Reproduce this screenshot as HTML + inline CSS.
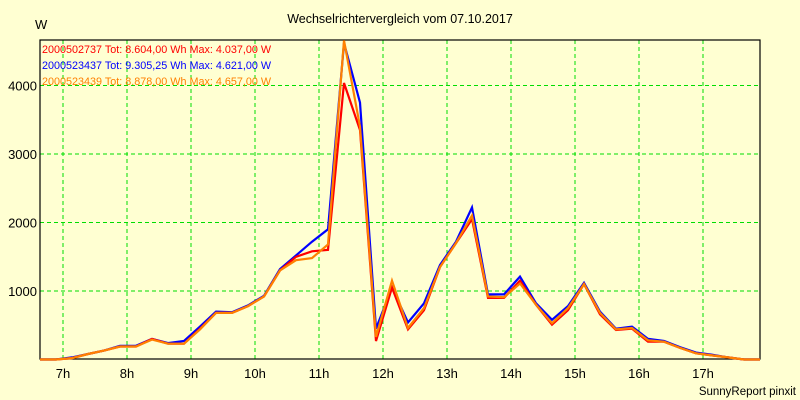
<!DOCTYPE html>
<html><head><meta charset="utf-8"><style>
body{margin:0;background:#ffffd2;}
svg{display:block;font-family:"Liberation Sans",sans-serif;}
</style></head><body>
<svg id="chart" width="800" height="400">
<rect x="0" y="0" width="800" height="400" fill="#ffffd2"/>
<g id="grid"></g>
<rect x="40" y="40" width="720" height="319" fill="none" stroke="#000" stroke-width="1.2"/>
<g id="series"></g>
<g id="axes"></g>
<text x="400" y="23" text-anchor="middle" font-size="12.5">Wechselrichtervergleich vom 07.10.2017</text>
<text x="35" y="29" font-size="13">W</text>
<text x="42" y="53" font-size="10.8" fill="#ff0000">2000502737 Tot: 8.604,00 Wh Max: 4.037,00 W</text>
<text x="42" y="69" font-size="10.8" fill="#0000ff">2000523437 Tot: 9.305,25 Wh Max: 4.621,00 W</text>
<text x="42" y="85" font-size="10.8" fill="#ff8000">2000523439 Tot: 8.878,00 Wh Max: 4.657,00 W</text>
<text x="796" y="395" text-anchor="end" font-size="11.5">SunnyReport pinxit</text>
</svg>
<script>
const hourTicks=[7,8,9,10,11,12,13,14,15,16,17];
const yTicks=[1000,2000,3000,4000];
const startHour=6.64;
const stepHours=0.25;
const redValues=[0,0,20,80,130,190,190,300,230,230,450,680,680,780,920,1300,1500,1580,1600,4037,3350,270,1050,440,720,1350,1700,2050,900,900,1150,800,510,720,1100,660,430,450,260,260,170,90,60,30,0,0];
const blueValues=[0,0,30,80,130,200,200,300,240,270,480,700,690,790,930,1320,1520,1720,1900,4621,3750,450,1050,540,820,1380,1720,2220,950,950,1210,820,580,780,1120,700,450,480,300,270,180,100,70,30,0,0];
const orangeValues=[0,0,20,80,130,190,190,290,230,230,440,680,680,780,920,1300,1450,1480,1680,4657,3400,330,1150,460,750,1350,1700,2100,920,910,1110,800,530,750,1100,680,440,460,280,260,170,90,60,30,0,0];
const NS="http://www.w3.org/2000/svg";
const xs=h=>63+(h-7)*64;
const ys=v=>359.5-v*0.0685;
const grid=document.getElementById('grid'),axes=document.getElementById('axes'),series=document.getElementById('series');
function mk(tag,parent,attrs){const e=document.createElementNS(NS,tag);for(const k in attrs)e.setAttribute(k,attrs[k]);parent.appendChild(e);return e;}
hourTicks.forEach(h=>{
 const l=mk('line',grid,{x1:xs(h),x2:xs(h),y1:40,y2:359,stroke:'#00dd00','stroke-dasharray':'4,3'});
 
 
 const t=mk('text',axes,{x:xs(h),y:378,'text-anchor':'middle','font-size':'13'});
 t.textContent=h+'h';
 
 
});
yTicks.forEach(v=>{
 const l=mk('line',grid,{x1:40,x2:760,y1:ys(v),y2:ys(v),stroke:'#00dd00','stroke-dasharray':'4,3'});
 
 
 const t=mk('text',axes,{x:37,y:ys(v)+5,'text-anchor':'end','font-size':'13'});
 t.textContent=v;
 
 
});
function line(vals,color,name){
 const pts=vals.map((v,i)=>xs(startHour+i*stepHours).toFixed(1)+','+ys(v).toFixed(1)).join(' ');
 const p=mk('polyline',series,{points:pts,fill:'none',stroke:color,'stroke-width':'2.2','stroke-linejoin':'miter'});
 
 
}
line(blueValues,'#0000ff','series-2000523437');
line(redValues,'#ff0000','series-2000502737');
line(orangeValues,'#ff8000','series-2000523439');
</script>
</body></html>
